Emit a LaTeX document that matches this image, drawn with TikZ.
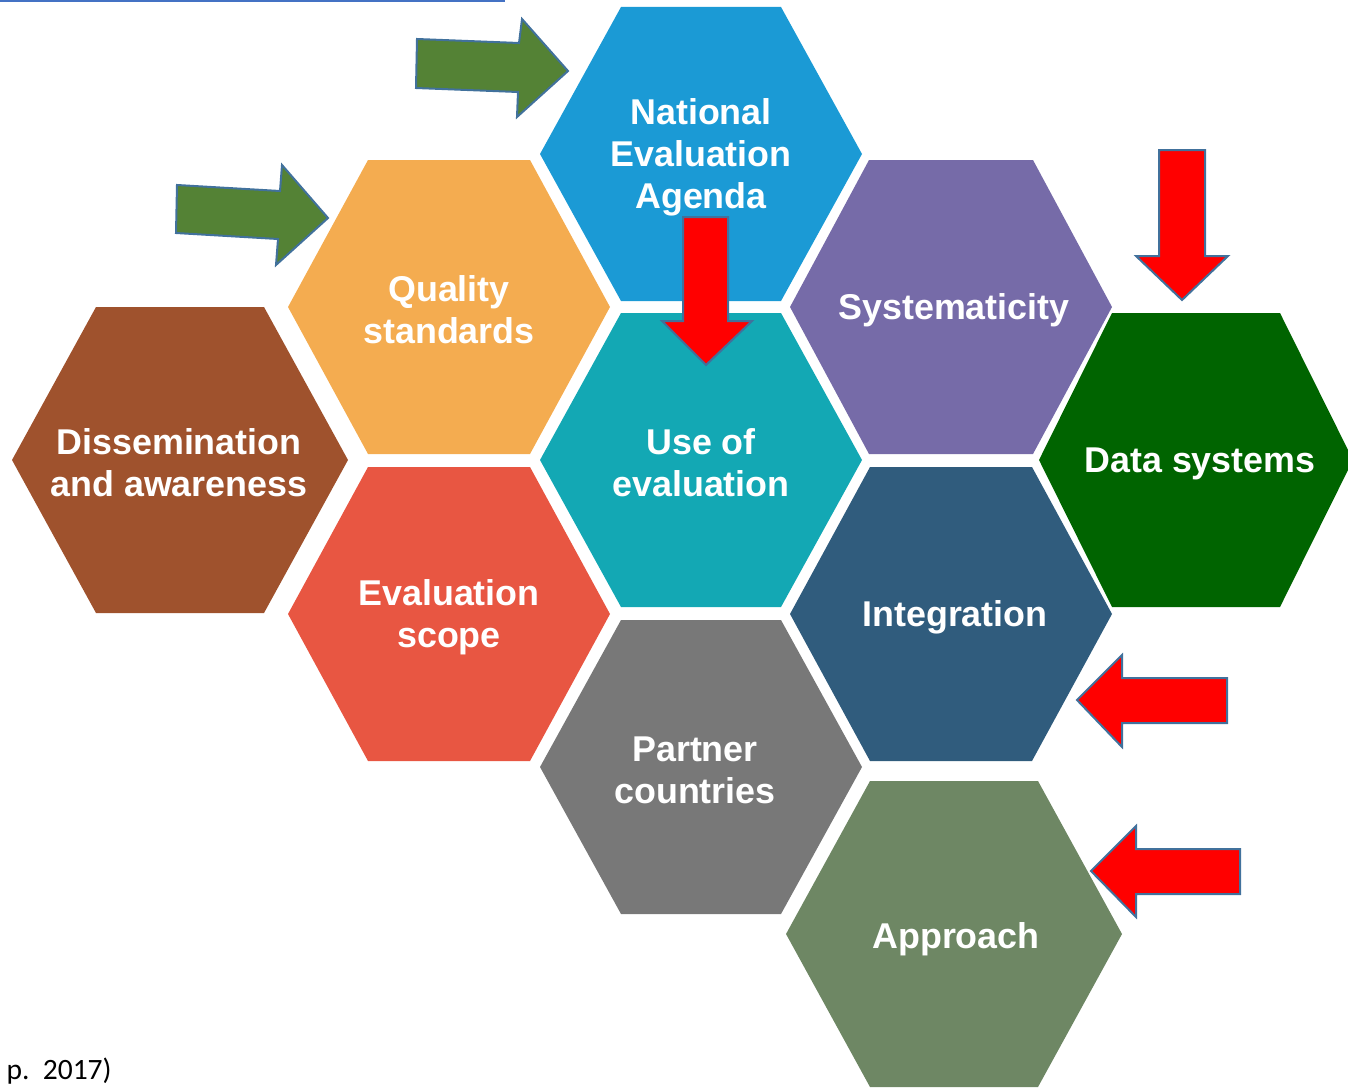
\documentclass[tikz,border=0pt]{standalone}
\usepackage{fontspec}
\usepackage{tikz}

\newfontfamily\cellfont{Liberation Sans}
\newfontfamily\notefont{Carlito}

\definecolor{agendablue}{HTML}{1B9AD5}
\definecolor{qualityorange}{HTML}{F4AC50}
\definecolor{systempurple}{HTML}{766BA8}
\definecolor{useteal}{HTML}{13A8B4}
\definecolor{dissembrown}{HTML}{9F522D}
\definecolor{datagreen}{HTML}{006400}
\definecolor{scopered}{HTML}{E85642}
\definecolor{integrblue}{HTML}{305C7D}
\definecolor{partnergrey}{HTML}{787878}
\definecolor{approachgreen}{HTML}{6E8764}
\definecolor{arrowgreen}{HTML}{548235}
\definecolor{arrowrim}{HTML}{41719C}
\definecolor{ruleblue}{HTML}{4472C4}

% hexagon: x, y, half width, half top edge, half height, colour
\newcommand{\hexcell}[6]{%
  \fill[#6] (#1-#3,#2) -- (#1-#4,#2-#5) -- (#1+#4,#2-#5) -- (#1+#3,#2)
    -- (#1+#4,#2+#5) -- (#1-#4,#2+#5) -- cycle;}

\tikzset{
  cell/.style={align=center, text=white, inner sep=0pt,
    font=\cellfont\bfseries\fontsize{20.4}{23.8}\selectfont},
  greenarrow/.style={fill=arrowgreen, draw=arrowrim, line width=0.04cm},
  redarrow/.style={fill=red, draw=arrowrim, line width=0.04cm},
}

\begin{document}
\begin{tikzpicture}[x=0.02cm, y=-0.02cm]
      \useasboundingbox (0,0) rectangle (1348,1088);
      \clip (0,0) rectangle (1348,1088);

      \draw[ruleblue, line width=0.04cm] (0,1) -- (505,1);

      % small cells
      \hexcell{701}{154}{161}{80}{147}{agendablue}
      \hexcell{449}{307}{161}{81}{147}{qualityorange}
      \hexcell{951}{307}{161}{82}{147}{systempurple}
      \hexcell{701}{460}{161}{80}{147}{useteal}
      \hexcell{1196}{460}{157}{84}{147}{datagreen}
      \hexcell{449}{614}{161}{81}{147}{scopered}
      \hexcell{951}{614}{161}{81}{147}{integrblue}
      \hexcell{701}{767}{161}{80}{147}{partnergrey}
      % large cells
      \hexcell{180}{460}{168}{84}{153}{dissembrown}
      \hexcell{954}{934}{168}{84}{153}{approachgreen}

      \node[cell] (agenda) at (701,157) {National\\Evaluation\\Agenda};
      \node[cell] (quality) at (449,310) {Quality\\standards};
      \node[cell] (system) at (954,310) {Systematicity};
      \node[cell] (use) at (701,463) {Use of\\evaluation};
      \node[cell] (data) at (1200,464) {Data systems};
      \node[cell] (dissem) at (179,463) {Dissemination\\and awareness};
      \node[cell] (scope) at (449,617) {Evaluation\\scope};
      \node[cell] (integr) at (955,617) {Integration};
      \node[cell] (partner) at (695,770) {Partner\\countries};
      \node[cell] (approach) at (956,939) {Approach};

      % green arrows
      \draw[greenarrow] (417,39) -- (519,43) -- (522,19) -- (568,71) -- (517,117)
        -- (518,92) -- (416,88) -- cycle;
      \draw[greenarrow] (177,185) -- (280,191) -- (282,165) -- (328,218) -- (276,265)
        -- (278,239) -- (176,233) -- cycle;

      % red arrows
      \draw[redarrow] (683,217) -- (728,217) -- (728,321) -- (752,321) -- (706,365)
        -- (662,321) -- (683,321) -- cycle;
      \draw[redarrow] (1159,150) -- (1205,150) -- (1205,256) -- (1228,256) -- (1182,300)
        -- (1136,256) -- (1159,256) -- cycle;
      \draw[redarrow] (1077,700) -- (1122,655) -- (1122,678) -- (1227,678) -- (1227,723)
        -- (1122,723) -- (1122,747) -- cycle;
      \draw[redarrow] (1091,871) -- (1136,826) -- (1136,849) -- (1240,849) -- (1240,894)
        -- (1136,894) -- (1136,917) -- cycle;

      \node[anchor=base east, inner sep=0pt, font=\notefont\fontsize{16.8}{20}\selectfont]
        (source) at (112,1079) {p.~~2017)};
\end{tikzpicture}
\end{document}
